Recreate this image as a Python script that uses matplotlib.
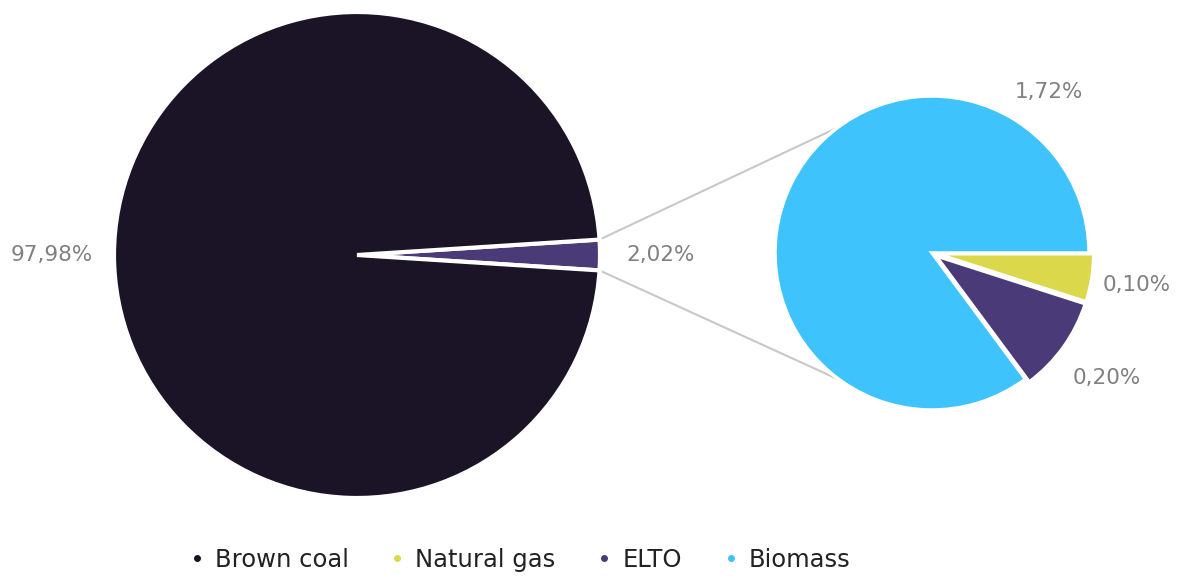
import numpy as np
from matplotlib import pyplot as plt
from matplotlib.lines import Line2D

# data
main_names = ['Other', 'Brown coal']
main_vals = [2.02, 97.98]
sub_names = ['Natural gas', 'ELTO', 'Biomass']
sub_vals = [0.10, 0.20, 1.72]
legend_names = ['Brown coal', 'Natural gas', 'ELTO', 'Biomass']

col_coal = '#1b1426'
col_elto = '#4a3a78'
col_gas = '#dcd84c'
col_bio = '#3fc3fc'
col_lbl = '#808080'

def fmt(v):
    return ('%.2f%%' % v).replace('.', ',')

W, H = 1179, 579
fig = plt.figure(figsize=(W/100, H/100), dpi=100)
ax = fig.add_axes([0, 0, 1, 1])

# big pie (pixel coords, y up)
c1, r1 = (357, H - 255), 243
half = main_vals[0] / sum(main_vals) * 180
w1, _ = ax.pie(main_vals, colors=[col_elto, col_coal], startangle=-half,
               center=c1, radius=r1, counterclock=True,
               wedgeprops=dict(edgecolor='white', linewidth=3))

# small pie (explode is in data units here)
c2, r2 = (932, H - 253), 157
w2, _ = ax.pie(sub_vals, colors=[col_gas, col_elto, col_bio], startangle=0,
               center=c2, radius=r2, counterclock=False,
               explode=[0.03*r2, 0.03*r2, 0],
               wedgeprops=dict(edgecolor='white', linewidth=2.5))

# connecting lines
wt = w1[0]
for a1, a2 in [(wt.theta2, 127), (wt.theta1, -126)]:
    x1 = c1[0] + r1*np.cos(np.radians(a1))
    y1 = c1[1] + r1*np.sin(np.radians(a1))
    x2 = c2[0] + r2*np.cos(np.radians(a2))
    y2 = c2[1] + r2*np.sin(np.radians(a2))
    ax.plot([x1, x2], [y1, y2], color='#c8c8c8', lw=1.5, zorder=0)

# labels
def lab(c, r, ang, d, txt):
    ax.text(c[0] + r*d*np.cos(np.radians(ang)), c[1] + r*d*np.sin(np.radians(ang)),
            txt, ha='center', va='center', color=col_lbl, fontsize=15.5)

lab(c1, r1, 180, 1.255, fmt(main_vals[1]))
lab(c1, r1, 0, 1.25, fmt(main_vals[0]))
lab(c2, r2, 54, 1.27, fmt(sub_vals[2]))
for w, v, d in zip(w2[:2], sub_vals[:2], [1.32, 1.37]):
    m = (w.theta1 + w.theta2) / 2
    lab(c2, r2, m, d, fmt(v))

ax.set_xlim(0, W)
ax.set_ylim(0, H)
ax.set_aspect('equal')
ax.axis('off')

handles = [Line2D([], [], ls='', marker='o', ms=4, color=c)
           for c in [col_coal, col_gas, col_elto, col_bio]]
fig.legend(handles, legend_names, loc='center', bbox_to_anchor=(0.441, 0.033),
           ncol=4, frameon=False, fontsize=17.5, handlelength=0.6,
           handletextpad=0.45, columnspacing=1.7, labelcolor='#222222')

fig.savefig('out.png', dpi=100)
